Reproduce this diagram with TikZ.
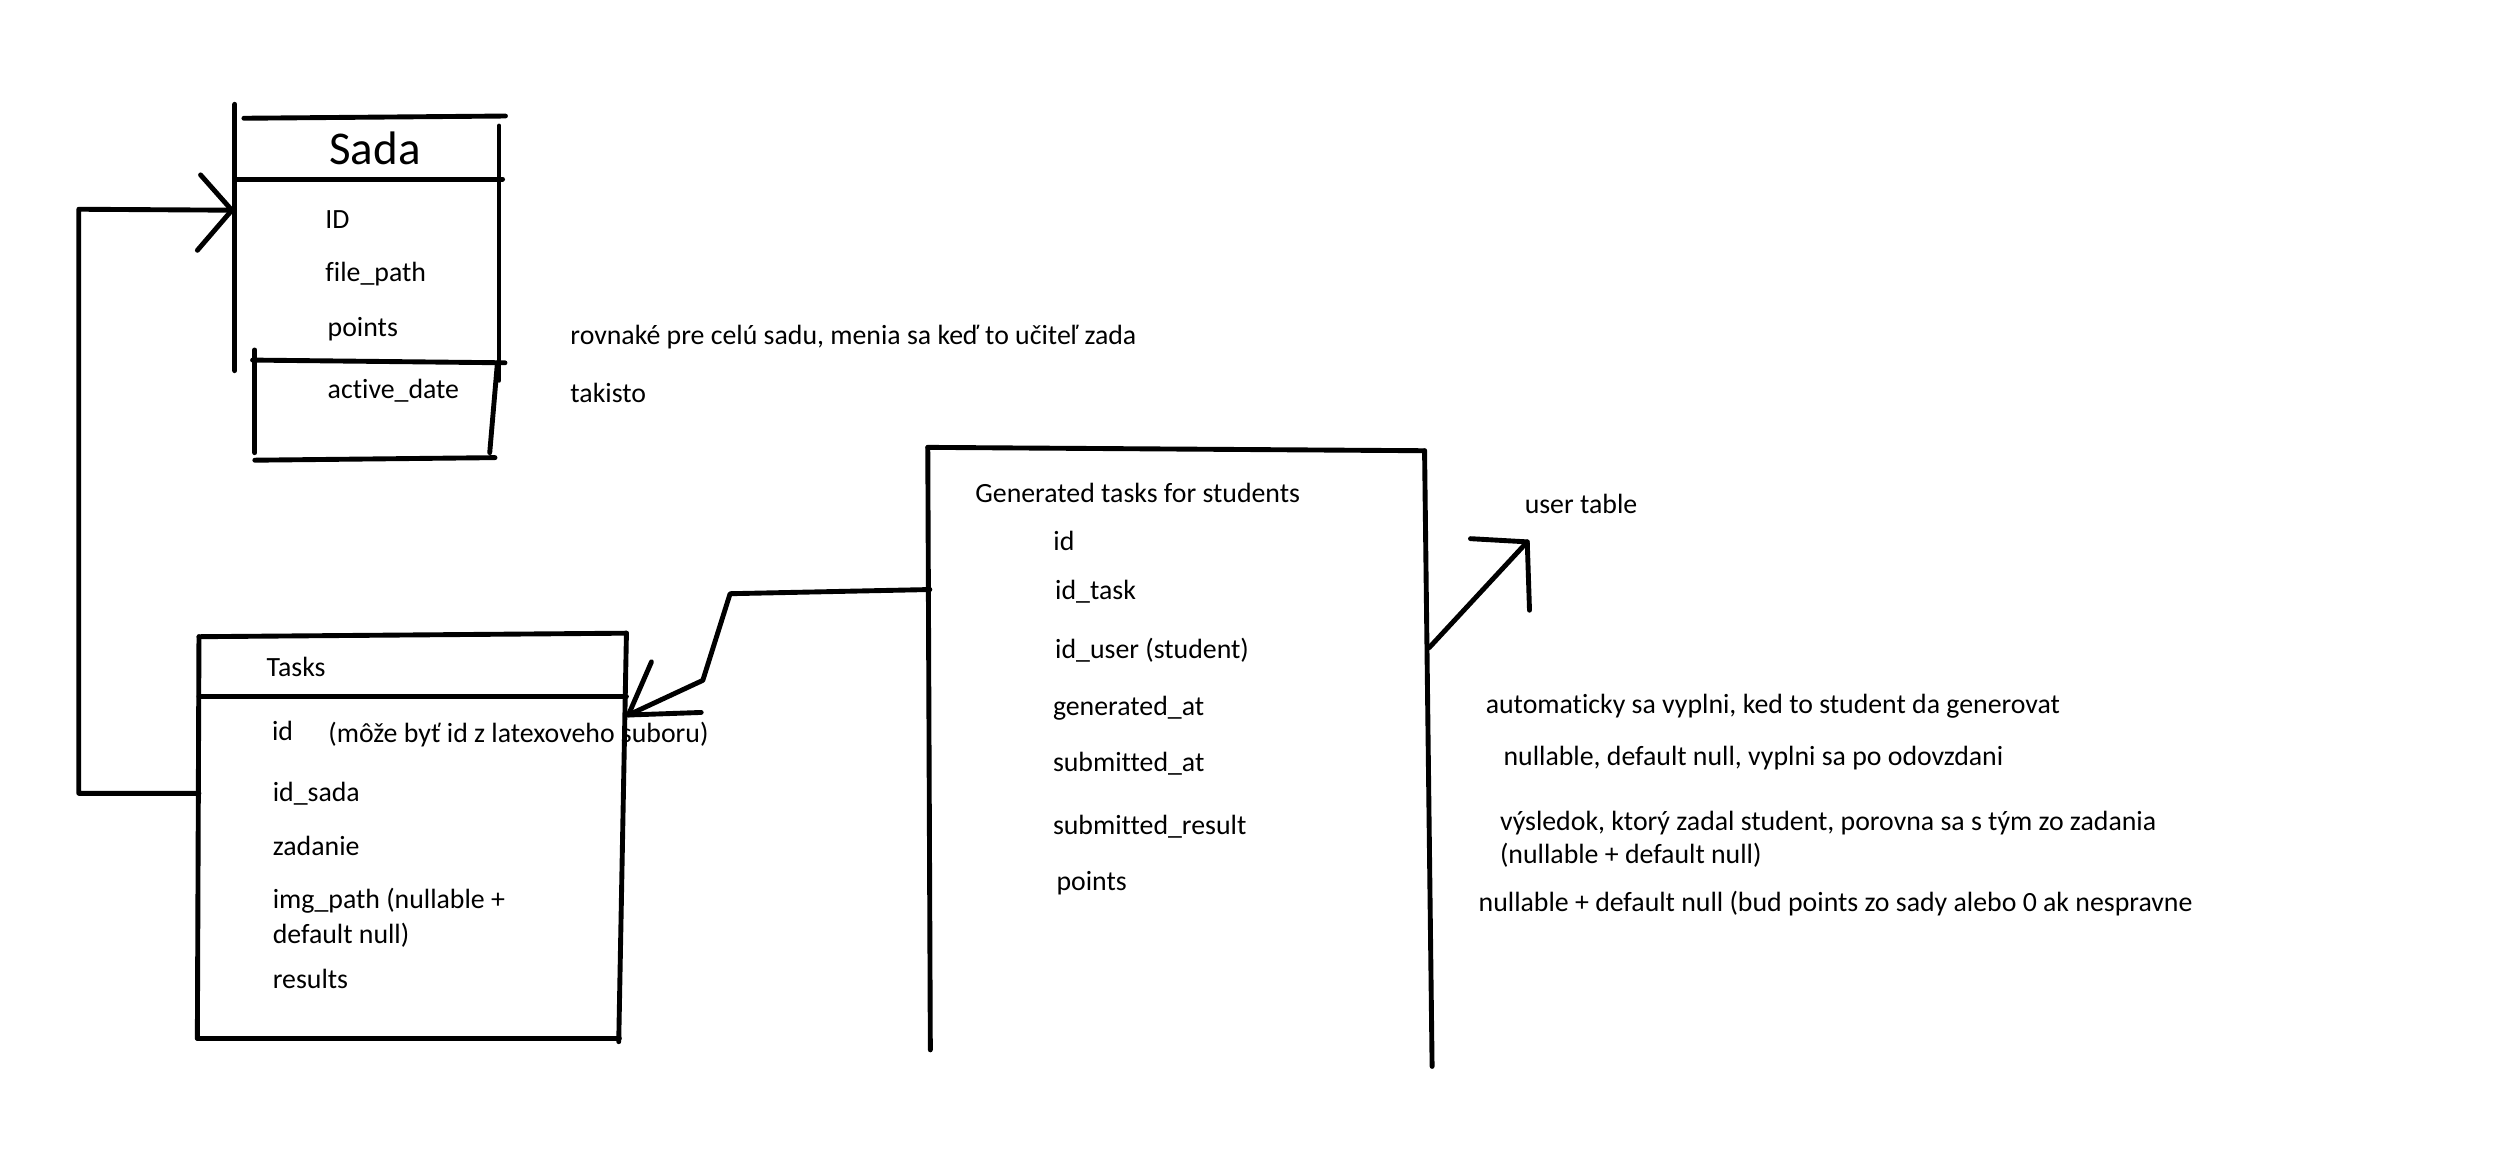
\documentclass[tikz,border=0pt]{standalone}
\usepackage{fontspec}
\setmainfont{Carlito}[Ligatures={NoCommon}]
\begin{document}
\begin{tikzpicture}[x=0.03cm,y=-0.03cm,
  ln/.style={line width=2.6pt,line cap=round,line join=round},
  txt/.style={anchor=base west,inner sep=0pt,font=\fontsize{14.8}{17}\selectfont},
  ttl/.style={anchor=base west,inner sep=0pt,font=\fontsize{25}{29}\selectfont}]
\useasboundingbox (0,0) rectangle (1568,724);
\fill[white] (0,0) rectangle (1568,724);

% ---------- texts ----------
\node[ttl] (sada) at (205,102.8) {Sada};
\node[txt] (sid) at (202.6,142.3) {ID};
\node[txt] (sfile) at (202.6,175.5) {file\_path};
\node[txt] (spoints) at (204,209.8) {points};
\node[txt] (sactive) at (204,248.2) {active\_date};
\node[txt] (n1) at (355.3,215) {rovnaké pre celú sadu, menia sa keď to učiteľ zada};
\node[txt] (n2) at (355.3,250.9) {takisto};

\node[txt] (tasks) at (166,421.7) {Tasks};
\node[txt] (tid) at (169.3,461.2) {id};
\node[txt] (tnote) at (204.4,463) {(môže byť id z latexoveho suboru)};
\node[txt] (tsada) at (169.8,499.6) {id\_sada};
\node[txt] (tzad) at (169.8,532.9) {zadanie};
\node[txt] (timg) at (169.8,566) {img\_path (nullable +};
\node[txt] (timg2) at (169.8,588) {default null)};
\node[txt] (tres) at (169.8,615.8) {results};

\node[txt] (gen) at (607.6,313.2) {Generated tasks for students};
\node[txt] (gid) at (656.3,342.9) {id};
\node[txt] (gtask) at (657.4,373.9) {id\_task};
\node[txt] (guser) at (657.4,410.1) {id\_user (student)};
\node[txt] (ggen) at (656,446.2) {generated\_at};
\node[txt] (gsub) at (656,481.1) {submitted\_at};
\node[txt] (gres) at (656,519.9) {submitted\_result};
\node[txt] (gpts) at (658.2,554.8) {points};

\node[txt] (user) at (950,319.8) {user table};
\node[txt] (c1) at (925.7,444.6) {automaticky sa vyplni, ked to student da generovat};
\node[txt] (c2) at (936.8,476.8) {nullable, default null, vyplni sa po odovzdani};
\node[txt] (c3) at (934.6,517.3) {výsledok, ktorý zadal student, porovna sa s tým zo zadania};
\node[txt] (c4) at (934.6,538) {(nullable + default null)};
\node[txt] (c5) at (921.3,568.2) {nullable + default null (bud points zo sady alebo 0 ak nespravne};

% ---------- Sada box ----------
\draw[ln] (146.3,65) -- (146.3,231);
\draw[ln] (152,73.7) -- (315,72.3);
\draw[ln] (311,78.5) -- (311,237);
\draw[ln] (146.3,111.6) -- (313.2,111.6);
\draw[ln] (157.4,224.4) -- (314.7,226.1);
\draw[ln] (158.8,218.1) -- (158.8,282.1);
\draw[ln] (310,226.1) -- (305.2,282.1);
\draw[ln] (158.8,286.8) -- (308.5,285.2);

% ---------- Tasks box ----------
\coordinate (tTL) at (124,396.8);
\coordinate (tTR) at (390.4,394.6);
\coordinate (tBL) at (123,647.1);
\coordinate (tBR) at (385.6,649.2);
\draw[ln] (tTL) -- (tTR);
\draw[ln] (tTL) -- (tBL);
\draw[ln] (tTR) -- (tBR);
\draw[ln] (124,434.2) -- (390.4,434.2);
\draw[ln] (tBL) -- (386,647.1);

% ---------- Generated box ----------
\coordinate (gTL) at (578.2,278.8);
\coordinate (gTR) at (887.8,280.9);
\coordinate (gBL) at (579.8,654.3);
\coordinate (gBR) at (892.5,664.6);
\draw[ln] (gTL) -- (gTR);
\draw[ln] (gTL) -- (gBL);
\draw[ln] (gTR) -- (gBR);

% ---------- connector Tasks -> Sada ----------
\coordinate (tout) at (124,494.4);
\coordinate (sin) at (144.5,131);
\draw[ln] (tout) -- (49.1,494.4) -- (49.1,130.4) -- (sin);
\draw[ln] (125,109) -- (sin) -- (123,156);

% ---------- connector Generated -> Tasks ----------
\coordinate (gout) at (579.5,367.4);
\coordinate (tin) at (391.6,445.6);
\draw[ln] (gout) -- (455,370) -- (438,424) -- (tin);
\draw[ln] (406,412.5) -- (tin) -- (437,444);

% ---------- connector Generated -> user table ----------
\coordinate (gout2) at (890.6,403.7);
\coordinate (uin) at (951.8,337.7);
\draw[ln] (gout2) -- (uin);
\draw[ln] (916.4,335.7) -- (uin) -- (953.2,380.3);
\end{tikzpicture}
\end{document}
